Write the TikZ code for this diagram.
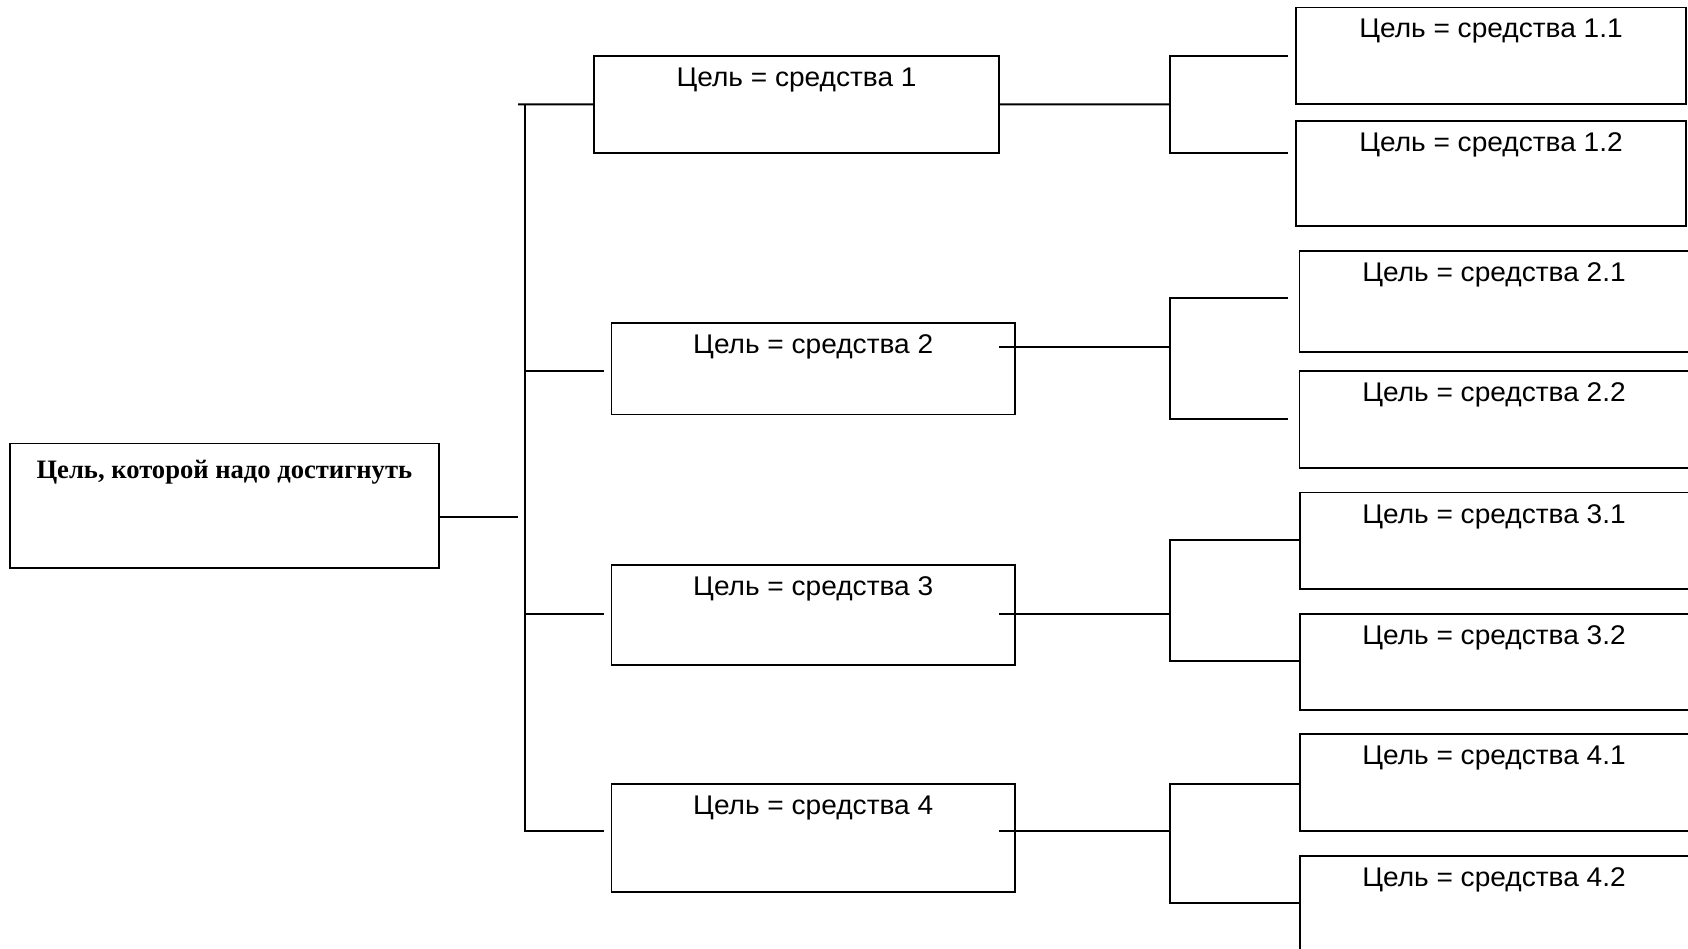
\documentclass[tikz,border=0pt]{standalone}
\usepackage{fontspec}
\setmainfont{Liberation Serif}
\newfontfamily\sansf[FakeStretch=1.04]{Liberation Sans}
\begin{document}
\begin{tikzpicture}[x=1pt,y=-1pt,
  box/.style={draw=black,line width=1.9pt,fill=white,inner sep=0pt,outer sep=0pt,anchor=north west},
  lbl/.style={inner sep=0pt,anchor=base,font=\sansf\fontsize{27}{30}\selectfont},
  mainlbl/.style={inner sep=0pt,anchor=base,font=\bfseries\fontsize{26.6}{30}\selectfont},
  conn/.style={line width=1.9pt,line cap=butt,line join=miter}]
\clip (0,0) rectangle (1688,949);
\fill[white] (0,0) rectangle (1688,949);
% boxes
\node[box,minimum width=429.3pt,minimum height=124.9pt] (main) at (9.7,443.5) {};
\node[box,minimum width=404.8pt,minimum height=96.9pt] (b1) at (594.2,56) {};
\node[box,minimum width=403.5pt,minimum height=91.5pt] (b2) at (611.5,323) {};
\node[box,minimum width=403.5pt,minimum height=100.3pt] (b3) at (611.5,565) {};
\node[box,minimum width=403.5pt,minimum height=108.7pt] (b4) at (611.5,783.7) {};
\node[box,minimum width=390pt,minimum height=96.9pt] (b11) at (1296,7.5) {};
\node[box,minimum width=390pt,minimum height=105.4pt] (b12) at (1296,120.6) {};
\node[box,minimum width=400pt,minimum height=101.2pt] (b21) at (1299.5,250.8) {};
\node[box,minimum width=400pt,minimum height=97.6pt] (b22) at (1299.5,370.7) {};
\node[box,minimum width=400pt,minimum height=96.5pt] (b31) at (1300,492.5) {};
\node[box,minimum width=400pt,minimum height=96.6pt] (b32) at (1300,613.7) {};
\node[box,minimum width=400pt,minimum height=97.1pt] (b41) at (1300,734.2) {};
\node[box,minimum width=400pt,minimum height=130pt] (b42) at (1300,855.8) {};
% labels
\node[mainlbl] (tmain) at ([yshift=-34.8pt]main.north) {Цель, которой надо достигнуть};
\node[lbl] (t1) at ([yshift=-30.5pt]b1.north) {Цель = средства 1};
\node[lbl] (t2) at ([yshift=-30.5pt]b2.north) {Цель = средства 2};
\node[lbl] (t3) at ([yshift=-30.5pt]b3.north) {Цель = средства 3};
\node[lbl] (t4) at ([yshift=-30.5pt]b4.north) {Цель = средства 4};
\node[lbl] (t11) at ([yshift=-30.5pt]b11.north) {Цель = средства 1.1};
\node[lbl] (t12) at ([yshift=-30.5pt]b12.north) {Цель = средства 1.2};
\node[lbl] (t21) at ([yshift=-30.5pt]b21.north -| 1494,0) {Цель = средства 2.1};
\node[lbl] (t22) at ([yshift=-30.5pt]b22.north -| 1494,0) {Цель = средства 2.2};
\node[lbl] (t31) at ([yshift=-30.5pt]b31.north -| 1494,0) {Цель = средства 3.1};
\node[lbl] (t32) at ([yshift=-30.5pt]b32.north -| 1494,0) {Цель = средства 3.2};
\node[lbl] (t41) at ([yshift=-30.5pt]b41.north -| 1494,0) {Цель = средства 4.1};
\node[lbl] (t42) at ([yshift=-30.5pt]b42.north -| 1494,0) {Цель = средства 4.2};
% junction coordinates
\coordinate (m0) at (439,516.7);
\coordinate (j0) at (518,516.7);
\coordinate (jt) at (518,104.4);
\coordinate (tr1) at (525.3,104.4);
\coordinate (tr4) at (525.3,831);
\coordinate (e2) at (604,371.4);
\coordinate (e3) at (604,614);
\coordinate (e4) at (604,831);
% left connectors
\draw[conn] (m0) -- (j0);
\draw[conn] (jt) -- (b1.west);
\draw[conn] (tr1) -- (tr4) -- (e4);
\draw[conn] (tr1 |- e2) -- (e2);
\draw[conn] (tr1 |- e3) -- (e3);
% right side: group 1
\draw[conn] (b1.east) -- (1170,104.4);
\draw[conn] (1287.5,56) -- (1170,56) -- (1170,153) -- (1287.5,153);
% group 2
\draw[conn] (999,346.6) -- (1170,346.6);
\draw[conn] (1287.5,298.2) -- (1170,298.2) -- (1170,418.8) -- (1287.5,418.8);
% group 3
\draw[conn] (999,614) -- (1170,614);
\draw[conn] (b31.west |- 0,540.4) -- (1170,540.4) -- (1170,661) -- (b32.west |- 0,661);
% group 4
\draw[conn] (999,831) -- (1170,831);
\draw[conn] (b41.west |- 0,783.7) -- (1170,783.7) -- (1170,903.2) -- (b42.west |- 0,903.2);
\end{tikzpicture}
\end{document}
